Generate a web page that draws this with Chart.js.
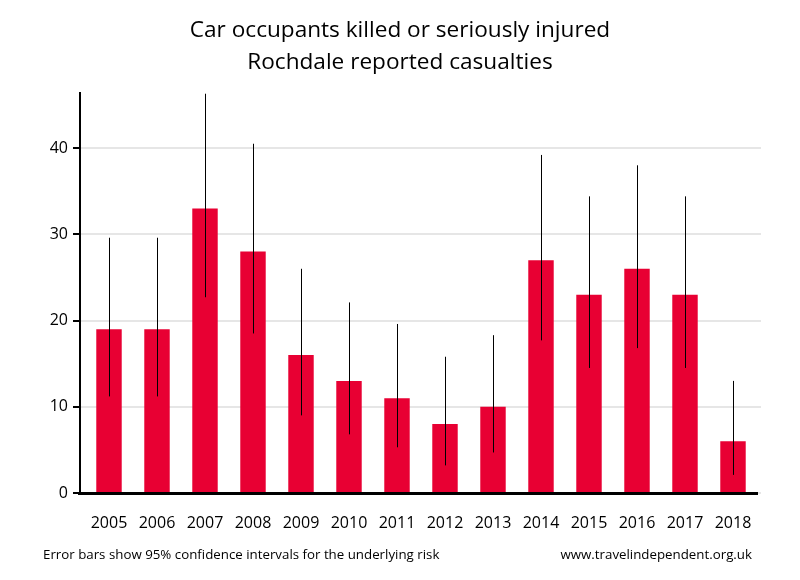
<!DOCTYPE html>
<html>
<head>
<meta charset="utf-8">
<script src="https://cdn.jsdelivr.net/npm/chart.js@4"></script>
<style>
  body { margin: 0; background: #fff; }
  #wrap { position: relative; width: 800px; height: 580px; }
  .title { position: absolute; left: 0; width: 800px; text-align: center; font-family: 'Open Sans', sans-serif; font-size: 22.6px; color: #000; line-height: 32px; }
  .note { position: absolute; top: 545px; font-family: 'Open Sans', sans-serif; font-size: 13.3px; color: #000; }
</style>
</head>
<body>
<div id="wrap">
  <canvas id="chart" width="800" height="580"></canvas>
  <div class="title" style="top:13px;">Car occupants killed or seriously injured<br>Rochdale reported casualties</div>
  <div class="note" style="left:43px;">Error bars show 95% confidence intervals for the underlying risk</div>
  <div class="note" style="right:48px;">www.travelindependent.org.uk</div>
</div>
<script>
// Car occupants KSI, Rochdale
const years = ['2005', '2006', '2007', '2008', '2009', '2010', '2011', '2012', '2013', '2014', '2015', '2016', '2017', '2018'];
const casualties = [19, 19, 33, 28, 16, 13, 11, 8, 10, 27, 23, 26, 23, 6];
const ciLow = [11.2, 11.2, 22.7, 18.5, 9.0, 6.8, 5.3, 3.2, 4.7, 17.7, 14.5, 16.8, 14.5, 2.1];
const ciHigh = [29.6, 29.6, 46.3, 40.5, 26.0, 22.1, 19.6, 15.8, 18.3, 39.2, 34.4, 38.0, 34.4, 13.0];
const yTicks = [0, 10, 20, 30, 40];

const font = "'Open Sans', sans-serif";

// axes, grid and error bars drawn by hand so they sit like the original
const axesPlugin = {
  id: 'axesPlugin',
  beforeDatasetsDraw(chart) {
    const { ctx, chartArea: a, scales: { y } } = chart;
    ctx.save();
    ctx.strokeStyle = '#e6e6e6';
    ctx.lineWidth = 2;
    yTicks.forEach(t => {
      const py = Math.round(y.getPixelForValue(t));
      ctx.beginPath();
      ctx.moveTo(a.left - 5, py);
      ctx.lineTo(a.right + 4, py);
      ctx.stroke();
    });
    ctx.restore();
  },
  afterDatasetsDraw(chart) {
    const { ctx, chartArea: a, scales: { y } } = chart;
    const meta = chart.getDatasetMeta(0);
    ctx.save();
    ctx.strokeStyle = '#000';
    ctx.lineWidth = 1;
    meta.data.forEach((bar, i) => {
      const px = Math.round(bar.x) + 0.5;
      ctx.beginPath();
      ctx.moveTo(px, y.getPixelForValue(ciLow[i]));
      ctx.lineTo(px, y.getPixelForValue(ciHigh[i]));
      ctx.stroke();
    });
    // y axis line + ticks
    ctx.lineWidth = 2;
    const ax = a.left - 5;
    ctx.beginPath();
    ctx.moveTo(ax, a.top);
    ctx.lineTo(ax, a.bottom);
    yTicks.forEach(t => {
      const py = Math.round(y.getPixelForValue(t));
      ctx.moveTo(ax - 7, py);
      ctx.lineTo(ax, py);
    });
    ctx.stroke();
    // x axis line
    ctx.lineWidth = 3;
    ctx.beginPath();
    ctx.moveTo(a.left - 7, a.bottom + 0.5);
    ctx.lineTo(a.right + 1, a.bottom + 0.5);
    ctx.stroke();
    ctx.restore();
  }
};

new Chart(document.getElementById('chart'), {
  type: 'bar',
  data: {
    labels: years,
    datasets: [{
      data: casualties,
      backgroundColor: '#e80033',
      categoryPercentage: 1,
      barPercentage: 0.53
    }]
  },
  options: {
    responsive: false,
    animation: false,
    layout: { padding: { left: 0, right: 43, top: 92, bottom: 0 } },
    plugins: {
      legend: { display: false },
      tooltip: { enabled: false }
    },
    scales: {
      x: {
        grid: { display: false },
        border: { display: false },
        ticks: { color: '#000', font: { family: font, size: 16 }, padding: 13, maxRotation: 0 },
        afterFit(scale) { scale.height = 87; }
      },
      y: {
        min: 0,
        max: 46.5,
        afterBuildTicks(scale) { scale.ticks = yTicks.map(v => ({ value: v })); },
        grid: { display: false, drawTicks: false },
        border: { display: false },
        ticks: { color: '#000', font: { family: font, size: 16 }, padding: 17 },
        afterFit(scale) { scale.width = 85; }
      }
    }
  },
  plugins: [axesPlugin]
});
</script>
</body>
</html>
